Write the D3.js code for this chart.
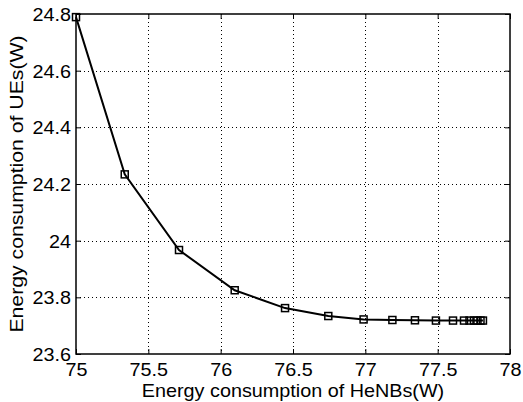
<!DOCTYPE html>
<html><head><meta charset="utf-8">
<script src="https://cdn.jsdelivr.net/npm/d3@7"></script>
<style>body{margin:0;background:#fff}svg{display:block}text{font-family:"Liberation Sans",Arial,sans-serif;fill:#000}</style>
</head><body><svg id="c" width="523" height="402"></svg>
<script>
const henbEnergy = [75.0, 75.337, 75.712, 76.097, 76.445, 76.744, 76.988, 77.187, 77.343, 77.488, 77.606, 77.682, 77.720, 77.751, 77.775, 77.796, 77.813];
const ueEnergy   = [24.789, 24.234, 23.967, 23.825, 23.762, 23.734, 23.722, 23.720, 23.719, 23.718, 23.718, 23.718, 23.718, 23.718, 23.718, 23.718, 23.718];
const xTicks = [75, 75.5, 76, 76.5, 77, 77.5, 78];
const yTicks = [23.6, 23.8, 24, 24.2, 24.4, 24.6, 24.8];
const xLabel = "Energy consumption of HeNBs(W)";
const yLabel = "Energy consumption of UEs(W)";

const svg = d3.select("#c");
const L = 76, R = 510, T = 14, B = 354;
const x = d3.scaleLinear().domain([75, 78]).range([L, R]);
const y = d3.scaleLinear().domain([23.6, 24.8]).range([B, T]);

// grid
const g = svg.append("g");
g.selectAll(".gx").data(xTicks.slice(1, -1)).join("line")
  .attr("x1", d => Math.round(x(d)) + 0.5).attr("x2", d => Math.round(x(d)) + 0.5)
  .attr("y1", T).attr("y2", B)
  .attr("stroke", "#000").attr("stroke-width", 1).attr("stroke-dasharray", "1,3");
g.selectAll(".gy").data(yTicks.slice(1, -1)).join("line")
  .attr("y1", d => Math.round(y(d)) + 0.5).attr("y2", d => Math.round(y(d)) + 0.5)
  .attr("x1", L).attr("x2", R)
  .attr("stroke", "#000").attr("stroke-width", 1).attr("stroke-dasharray", "1,3");

// axes with inward ticks
const fs = "18px";
const ax = svg.append("g").attr("transform", `translate(0,${B})`)
  .call(d3.axisBottom(x).tickValues(xTicks).tickSize(-5).tickPadding(9).tickFormat(d3.format("")));
const axT = svg.append("g").attr("transform", `translate(0,${T})`)
  .call(d3.axisTop(x).tickValues(xTicks).tickSize(-5).tickFormat(""));
const ay = svg.append("g").attr("transform", `translate(${L},0)`)
  .call(d3.axisLeft(y).tickValues(yTicks).tickSize(-5).tickPadding(5).tickFormat(d3.format("")));
const ayR = svg.append("g").attr("transform", `translate(${R},0)`)
  .call(d3.axisRight(y).tickValues(yTicks).tickSize(-5).tickFormat(""));
[ax, axT, ay, ayR].forEach(a => {
  a.select(".domain").remove();
  a.selectAll("line").attr("stroke", "#000");
  a.selectAll("text").attr("font-size", fs).attr("font-family", "Liberation Sans, Arial, sans-serif").attr("fill", "#000");
});
ay.selectAll("text").attr("dy", "0.36em");

svg.append("rect").attr("x", L).attr("y", T).attr("width", R - L).attr("height", B - T)
  .attr("fill", "none").attr("stroke", "#000").attr("stroke-width", 1.5);

// line
const pts = henbEnergy.map((v, i) => [v, ueEnergy[i]]);
svg.append("path").datum(pts)
  .attr("d", d3.line().x(d => x(d[0])).y(d => y(d[1])))
  .attr("fill", "none").attr("stroke", "#000").attr("stroke-width", 2);
svg.selectAll(".m").data(pts).join("rect")
  .attr("x", d => x(d[0]) - 3.5).attr("y", d => y(d[1]) - 3.5)
  .attr("width", 7).attr("height", 7)
  .attr("fill", "none").attr("stroke", "#000").attr("stroke-width", 1.5);

// widen tick glyphs slightly to match the reference typeface proportions
svg.selectAll(".tick text").each(function() {
  const w = this.getComputedTextLength();
  if (w > 0) d3.select(this).attr("textLength", w * 1.1).attr("lengthAdjust", "spacingAndGlyphs");
});

// axis titles
svg.append("text").attr("transform", `translate(${(L + R) / 2},397) scale(1.1,1)`)
  .attr("text-anchor", "middle").attr("font-size", fs).text(xLabel);
svg.append("text").attr("transform", `translate(23,${(T + B) / 2}) rotate(-90) scale(1.18,1)`)
  .attr("text-anchor", "middle").attr("font-size", fs).text(yLabel);
</script></body></html>
